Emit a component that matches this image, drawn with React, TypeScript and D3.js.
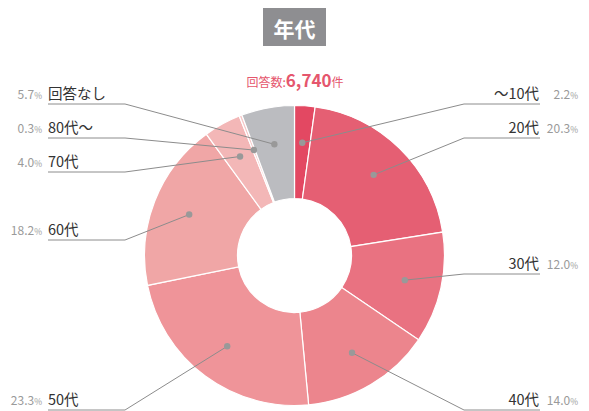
import React from "react";
import * as d3 from "d3";

const categories = ["～10代", "20代", "30代", "40代", "50代", "60代", "70代", "80代～", "回答なし"];
const values = [2.2, 20.3, 12.0, 14.0, 23.3, 18.2, 4.0, 0.3, 5.7];
const colors = ["#e34862", "#e55f73", "#e97281", "#ec858d", "#ef9499", "#f0a6a6", "#f3b7b7", "#f6c8c8", "#bbbcc0"];
const totalLabel = "6,740";
const title = "年代";

// layout (label rows), not data
const labelY = [104, 138, 274, 410, 410, 240, 172, 138, 104];

const W = 589, H = 411;
const cx = 294.5, cy = 255.5;
const rOuter = 150, rInner = 57, rDot = 113;
const rightElbow = 464, rightEnd = 540, leftElbow = 125, leftEnd = 48;
const font = "'Noto Sans CJK JP', 'Noto Sans', sans-serif";

export default function App() {
  const pie = d3.pie<number>().sort(null).value((d) => d)(values);
  const arc = d3.arc<d3.PieArcDatum<number>>().innerRadius(rInner).outerRadius(rOuter);
  const dotArc = d3.arc<d3.PieArcDatum<number>>().innerRadius(rDot).outerRadius(rDot);

  return (
    <svg width={W} height={H} style={{ position: "absolute", left: 0, top: 0, background: "#fff" }} fontFamily={font}>
      <rect x={263} y={8} width={63} height={38} fill="#8e8e91" />
      <text x={294.5} y={37} textAnchor="middle" fill="#fff" fontSize={21} fontWeight={700}>{title}</text>
      <text x={295} y={87} textAnchor="middle" fill="#e5566d">
        <tspan fontSize={12}>回答数:</tspan>
        <tspan fontSize={17} fontWeight={700}>{totalLabel}</tspan>
        <tspan fontSize={12}>件</tspan>
      </text>
      <g transform={`translate(${cx},${cy})`}>
        {pie.map((p, i) => (
          <path key={i} d={arc(p) || ""} fill={colors[i]} stroke="#fff" strokeWidth={1.2} />
        ))}
      </g>
      {pie.map((p, i) => {
        const [dx, dy] = dotArc.centroid(p);
        const x = cx + dx, y = cy + dy;
        const mid = (p.startAngle + p.endAngle) / 2;
        const right = mid < Math.PI;
        const ly = labelY[i];
        const elbow = right ? rightElbow : leftElbow;
        const end = right ? rightEnd : leftEnd;
        const num = values[i].toFixed(1);
        return (
          <g key={i}>
            <polyline points={`${x},${y} ${elbow},${ly} ${end},${ly}`} fill="none" stroke="#8c8c8c" strokeWidth={1} />
            <circle cx={x} cy={y} r={3.2} fill="#999" />
            {right ? (
              <>
                <text x={rightEnd - 1} y={ly - 5} textAnchor="end" fill="#333" fontSize={14.5}>{categories[i]}</text>
                <text x={578} y={ly - 5} textAnchor="end" fill="#9a9a9a">
                  <tspan fontSize={12}>{num}</tspan>
                  <tspan fontSize={8.5}>%</tspan>
                </text>
              </>
            ) : (
              <>
                <text x={leftEnd} y={ly - 5} textAnchor="start" fill="#333" fontSize={14.5}>{categories[i]}</text>
                <text x={42} y={ly - 5} textAnchor="end" fill="#9a9a9a">
                  <tspan fontSize={12}>{num}</tspan>
                  <tspan fontSize={8.5}>%</tspan>
                </text>
              </>
            )}
          </g>
        );
      })}
    </svg>
  );
}
